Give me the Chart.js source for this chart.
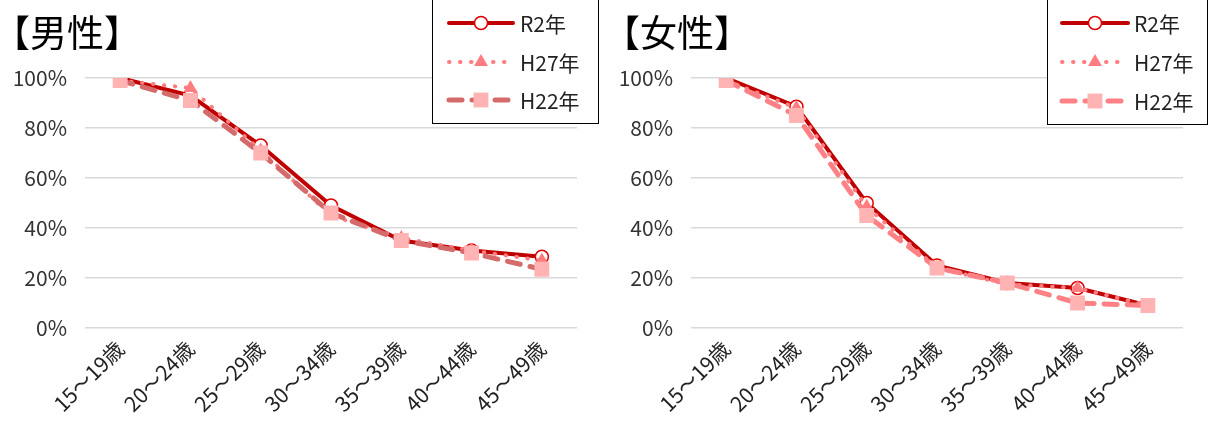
<!DOCTYPE html>
<html>
<head>
<meta charset="utf-8">
<script src="https://cdn.jsdelivr.net/npm/chart.js@4.4.1/dist/chart.umd.min.js"></script>
<style>
  html, body { margin: 0; padding: 0; background: #fff; }
  #wrap { position: relative; width: 1208px; height: 427px; overflow: hidden; font-family: "Noto Sans CJK JP", "Noto Sans", sans-serif; }
  .box { position: absolute; top: 0; height: 427px; }
  .title { position: absolute; top: 7px; font-size: 37px; color: #000; line-height: 48px; white-space: nowrap; z-index: 2; }
</style>
</head>
<body>
<div id="wrap">
  <div class="box" style="left:0;width:604px;"><canvas id="cm" width="604" height="427"></canvas></div>
  <div class="box" style="left:606px;width:602px;"><canvas id="cf" width="602" height="427"></canvas></div>
  <div class="title" style="left:-7px;">【男性】</div>
  <div class="title" style="left:603px;">【女性】</div>
</div>
<script>
const categories = ["15〜19歳", "20〜24歳", "25〜29歳", "30〜34歳", "35〜39歳", "40〜44歳", "45〜49歳"];
const seriesNames = ["R2年", "H27年", "H22年"];
const yTicks = [0, 20, 40, 60, 80, 100];

const maleR2  = [100, 93, 73, 49, 35, 31, 28.5];
const maleH27 = [99, 96, 71, 45, 36, 31, 27];
const maleH22 = [99, 91, 70, 46, 35, 30, 23.5];

const femaleR2  = [100, 88.5, 50, 25, 18, 16, 9];
const femaleH27 = [99, 88, 48.5, 24, 17.5, 16, 9];
const femaleH22 = [99, 85, 45, 24, 18, 10, 9];

const FONT = '"Noto Sans CJK JP", "Noto Sans", sans-serif';

function drawMarker(ctx, style, x, y, r, fill, stroke, bw) {
  ctx.save();
  ctx.setLineDash([]);
  ctx.fillStyle = fill; ctx.strokeStyle = stroke; ctx.lineWidth = bw;
  ctx.beginPath();
  if (style === 'circle') {
    ctx.arc(x, y, r, 0, Math.PI * 2);
  } else if (style === 'triangle') {
    const rad = -Math.PI / 2;
    ctx.moveTo(x + Math.cos(rad) * r, y + Math.sin(rad) * r);
    ctx.lineTo(x + Math.cos(rad + 2 * Math.PI / 3) * r, y + Math.sin(rad + 2 * Math.PI / 3) * r);
    ctx.lineTo(x + Math.cos(rad + 4 * Math.PI / 3) * r, y + Math.sin(rad + 4 * Math.PI / 3) * r);
    ctx.closePath();
  } else {
    const s = r * Math.SQRT1_2;
    ctx.rect(x - s, y - s, 2 * s, 2 * s);
  }
  ctx.fill();
  if (bw > 0) ctx.stroke();
  ctx.restore();
}

const legendPlugin = {
  id: 'boxLegend',
  afterDraw(chart, args, opts) {
    const ctx = chart.ctx;
    ctx.save();
    ctx.strokeStyle = '#000';
    ctx.lineWidth = 1;
    ctx.fillStyle = '#fff';
    ctx.fillRect(opts.x, opts.y, opts.w, opts.h);
    ctx.strokeRect(opts.x + 0.5, opts.y + 0.5, opts.w, opts.h);
    chart.data.datasets.forEach((ds, i) => {
      const cy = opts.rowY[i];
      ctx.save();
      ctx.strokeStyle = ds.borderColor;
      ctx.lineWidth = ds.borderWidth;
      ctx.lineCap = ds.borderCapStyle || 'butt';
      ctx.setLineDash(ds.borderDash || []);
      ctx.beginPath();
      ctx.moveTo(opts.lineX0, cy);
      ctx.lineTo(opts.lineX1, cy);
      ctx.stroke();
      ctx.restore();
      drawMarker(ctx, ds.pointStyle, (opts.lineX0 + opts.lineX1) / 2, cy, ds.pointRadius,
        ds.pointBackgroundColor, ds.pointBorderColor, ds.pointBorderWidth);
      ctx.fillStyle = '#222';
      ctx.font = '21px ' + FONT;
      ctx.textBaseline = 'middle';
      ctx.textAlign = 'left';
      ctx.fillText(ds.label, opts.textX, cy + 1);
    });
    ctx.restore();
  }
};

function makeChart(id, r2, h27, h22, h22Color, legendOpts, padRight) {
  const datasets = [
    { label: seriesNames[0], data: r2, borderColor: '#C00000', borderWidth: 4, borderCapStyle: 'round',
      pointStyle: 'circle', pointRadius: 6.5, pointBackgroundColor: '#FFFFFF', pointBorderColor: '#E00000',
      pointBorderWidth: 1.5, order: 3, tension: 0 },
    { label: seriesNames[1], data: h27, borderColor: '#FF7C80', borderWidth: 4, borderCapStyle: 'round',
      borderDash: [0.5, 10.5], pointStyle: 'triangle', pointRadius: 8, pointBackgroundColor: '#FF7C80',
      pointBorderColor: '#FF7C80', pointBorderWidth: 0, order: 2, tension: 0 },
    { label: seriesNames[2], data: h22, borderColor: h22Color, borderWidth: 5, borderCapStyle: 'round',
      borderDash: [13, 10], pointStyle: 'rect', pointRadius: 10.5, pointBackgroundColor: '#FFB3B3',
      pointBorderColor: '#FFB3B3', pointBorderWidth: 0, order: 1, tension: 0 }
  ];
  return new Chart(document.getElementById(id), {
    type: 'line',
    data: { labels: categories, datasets },
    options: {
      responsive: false,
      animation: false,
      devicePixelRatio: 1,
      layout: { padding: { left: 0, right: padRight, top: 78, bottom: 0 } },
      plugins: { legend: { display: false }, tooltip: { enabled: false }, title: { display: false },
        boxLegend: legendOpts },
      scales: {
        x: {
          offset: true,
          grid: { display: false },
          border: { display: false },
          ticks: { color: '#222', font: { size: 21, family: FONT }, minRotation: 45, maxRotation: 45, padding: 0, autoSkip: false },
          afterFit(scale) { scale.height = 99; }
        },
        y: {
          min: 0, max: 100,
          afterBuildTicks(scale) { scale.ticks = yTicks.map(v => ({ value: v })); },
          grid: { color: '#D9D9D9', lineWidth: 1.5, drawTicks: false },
          border: { display: false },
          ticks: { color: '#333', font: { size: 21, family: FONT }, padding: 18, callback: v => v + '%' },
          afterFit(scale) { scale.width = 85; }
        }
      }
    },
    plugins: [legendPlugin]
  });
}

makeChart('cm', maleR2, maleH27, maleH22, '#D46A6A',
  { x: 432, y: -1, w: 166, h: 124, lineX0: 449, lineX1: 513, textX: 520, rowY: [23, 62, 100] }, 27);
makeChart('cf', femaleR2, femaleH27, femaleH22, '#FF8085',
  { x: 441, y: -1, w: 160, h: 125, lineX0: 456, lineX1: 522, textX: 528, rowY: [23, 62, 101] }, 25);
</script>
</body>
</html>
